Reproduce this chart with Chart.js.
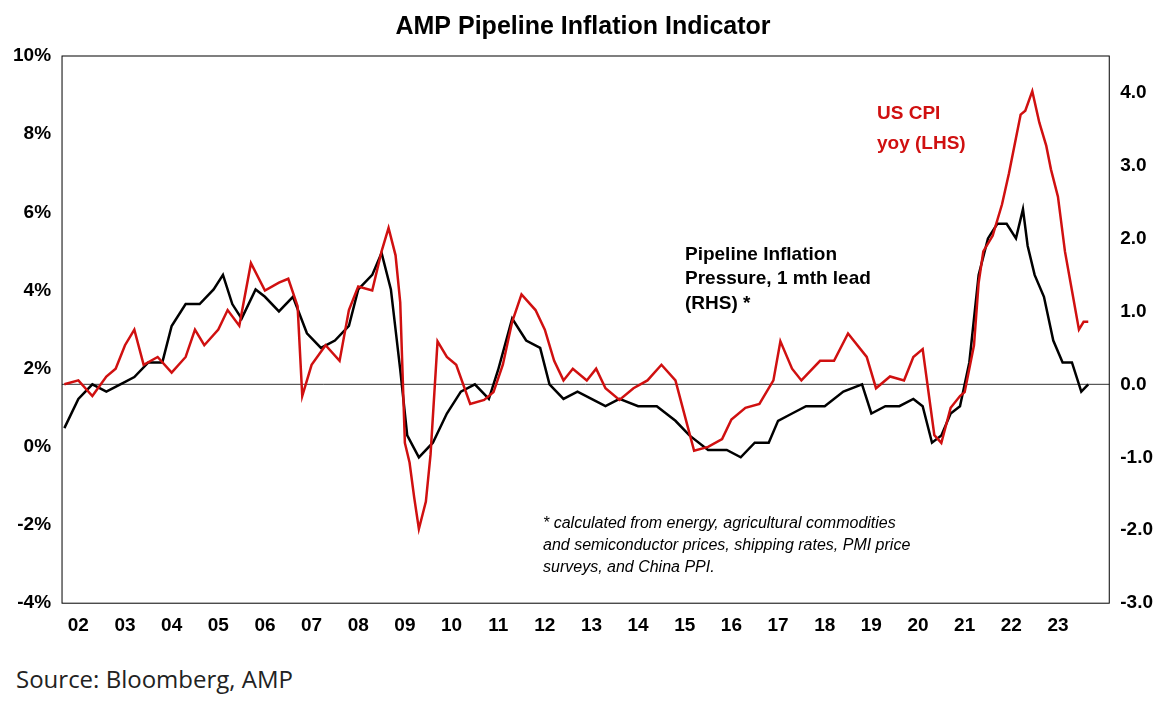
<!DOCTYPE html>
<html><head><meta charset="utf-8">
<script src="https://cdn.jsdelivr.net/npm/chart.js@4"></script>
<style>
body{margin:0;background:#fff;width:1174px;height:709px;overflow:hidden}
#wrap{position:absolute;left:0;top:0;width:1174px;height:640px}
#src{position:absolute;left:16px;top:662px;font:24px "Open Sans",sans-serif;color:#222}
</style></head><body>
<div id="wrap"><canvas id="c" width="1174" height="640"></canvas></div>
<div id="src">Source: Bloomberg, AMP</div>
<script>
const yearTicks=[2002,2003,2004,2005,2006,2007,2008,2009,2010,2011,2012,2013,2014,2015,2016,2017,2018,2019,2020,2021,2022,2023];
const cpiX=[2001.7,2002.0,2002.3,2002.6,2002.8,2003.0,2003.2,2003.4,2003.7,2004.0,2004.3,2004.5,2004.7,2005.0,2005.2,2005.45,2005.7,2006.0,2006.3,2006.5,2006.7,2006.8,2007.0,2007.3,2007.6,2007.8,2008.0,2008.3,2008.5,2008.65,2008.8,2008.9,2009.0,2009.1,2009.2,2009.3,2009.45,2009.55,2009.7,2009.9,2010.1,2010.4,2010.7,2010.9,2011.1,2011.3,2011.5,2011.8,2012.0,2012.2,2012.4,2012.6,2012.9,2013.1,2013.3,2013.6,2013.9,2014.2,2014.5,2014.8,2015.0,2015.2,2015.5,2015.8,2016.0,2016.3,2016.6,2016.9,2017.05,2017.3,2017.5,2017.9,2018.2,2018.5,2018.9,2019.1,2019.4,2019.7,2019.9,2020.1,2020.35,2020.5,2020.7,2020.9,2021.0,2021.2,2021.3,2021.4,2021.6,2021.8,2021.95,2022.1,2022.2,2022.3,2022.45,2022.6,2022.75,2022.85,2023.0,2023.15,2023.3,2023.45,2023.55,2023.65];
const cpiY=[1.6,1.7,1.3,1.8,2.0,2.6,3.0,2.1,2.3,1.9,2.3,3.0,2.6,3.0,3.5,3.1,4.7,4.0,4.2,4.3,3.6,1.3,2.1,2.6,2.2,3.5,4.1,4.0,5.0,5.6,4.9,3.7,0.1,-0.4,-1.3,-2.1,-1.4,-0.2,2.7,2.3,2.1,1.1,1.2,1.4,2.1,3.2,3.9,3.5,3.0,2.2,1.7,2.0,1.7,2.0,1.5,1.2,1.5,1.7,2.1,1.7,0.8,-0.1,0.0,0.2,0.7,1.0,1.1,1.7,2.7,2.0,1.7,2.2,2.2,2.9,2.3,1.5,1.8,1.7,2.3,2.5,0.3,0.1,1.0,1.3,1.4,2.6,4.2,5.0,5.4,6.2,7.0,7.9,8.5,8.6,9.1,8.3,7.7,7.1,6.4,5.0,4.0,3.0,3.2,3.2];
const pipeX=[2001.7,2002.0,2002.3,2002.6,2002.9,2003.2,2003.5,2003.8,2004.0,2004.3,2004.6,2004.9,2005.1,2005.3,2005.5,2005.8,2006.0,2006.3,2006.6,2006.9,2007.2,2007.5,2007.8,2008.0,2008.3,2008.5,2008.7,2008.9,2009.05,2009.3,2009.6,2009.9,2010.2,2010.5,2010.8,2011.0,2011.3,2011.6,2011.9,2012.1,2012.4,2012.7,2013.0,2013.3,2013.6,2014.0,2014.4,2014.8,2015.1,2015.5,2015.9,2016.2,2016.5,2016.8,2017.0,2017.3,2017.6,2018.0,2018.4,2018.8,2019.0,2019.3,2019.6,2019.9,2020.1,2020.3,2020.5,2020.7,2020.9,2021.1,2021.3,2021.5,2021.7,2021.9,2022.1,2022.25,2022.35,2022.5,2022.7,2022.9,2023.1,2023.3,2023.5,2023.65];
const pipeY=[-0.6,-0.2,0.0,-0.1,0.0,0.1,0.3,0.3,0.8,1.1,1.1,1.3,1.5,1.1,0.9,1.3,1.2,1.0,1.2,0.7,0.5,0.6,0.8,1.3,1.5,1.8,1.3,0.2,-0.7,-1.0,-0.8,-0.4,-0.1,0.0,-0.2,0.2,0.9,0.6,0.5,0.0,-0.2,-0.1,-0.2,-0.3,-0.2,-0.3,-0.3,-0.5,-0.7,-0.9,-0.9,-1.0,-0.8,-0.8,-0.5,-0.4,-0.3,-0.3,-0.1,0.0,-0.4,-0.3,-0.3,-0.2,-0.3,-0.8,-0.7,-0.4,-0.3,0.3,1.5,2.0,2.2,2.2,2.0,2.4,1.9,1.5,1.2,0.6,0.3,0.3,-0.1,0.0];
const pts=(xs,ys)=>xs.map((x,i)=>({x,y:ys[i]}));
const deco={id:'deco',
 beforeDatasetsDraw(ch){const {ctx,chartArea:a,scales:s}=ch;const y0=s.y1.getPixelForValue(0);
  ctx.save();ctx.strokeStyle='#333';ctx.lineWidth=1;ctx.beginPath();ctx.moveTo(a.left,y0);ctx.lineTo(a.right,y0);ctx.stroke();ctx.restore();},
 afterDraw(ch){const {ctx,chartArea:a}=ch;ctx.save();
  ctx.strokeStyle='#000';ctx.lineWidth=1;ctx.strokeRect(a.left,a.top,a.right-a.left,a.bottom-a.top);
  ctx.textBaseline='top';
  ctx.font='bold 19px Arial';ctx.fillStyle='#d01010';
  ctx.fillText('US CPI',877,104);ctx.fillText('yoy (LHS)',877,134);
  ctx.fillStyle='#000';
  ctx.fillText('Pipeline Inflation',685,245);ctx.fillText('Pressure, 1 mth lead',685,269);ctx.fillText('(RHS) *',685,294);
  ctx.font='italic 16px Arial';
  ctx.fillText('* calculated from energy, agricultural commodities',543,516);
  ctx.fillText('and semiconductor prices, shipping rates, PMI price',543,538);
  ctx.fillText('surveys, and China PPI.',543,560);
  ctx.restore();}};
new Chart(document.getElementById('c'),{type:'line',
 data:{datasets:[
  {data:pts(cpiX,cpiY),yAxisID:'y',borderColor:'#d01010',borderWidth:2.5,pointRadius:0,tension:0},
  {data:pts(pipeX,pipeY),yAxisID:'y1',borderColor:'#000',borderWidth:2.5,pointRadius:0,tension:0}]},
 options:{responsive:false,animation:false,devicePixelRatio:1,
  layout:{padding:{left:10,right:18,top:0,bottom:0}},
  plugins:{legend:{display:false},tooltip:{enabled:false},
   title:{display:true,text:'AMP Pipeline Inflation Indicator',font:{family:'Arial',size:25,weight:'bold'},color:'#000',padding:{top:12,bottom:14}}},
  scales:{
   x:{type:'linear',min:2001.65,max:2024.1,grid:{display:false},border:{display:false},
     afterBuildTicks(sc){sc.ticks=yearTicks.map(v=>({value:v}));},
     ticks:{autoSkip:false,maxRotation:0,color:'#000',font:{family:'Arial',size:19,weight:'bold'},callback:v=>String(v%100).padStart(2,'0')}},
   y:{position:'left',min:-4,max:10,grid:{display:false},border:{display:false},
     ticks:{stepSize:2,color:'#000',font:{family:'Arial',size:19,weight:'bold'},callback:v=>v+'%'}},
   y1:{position:'right',min:-3,max:4.5,grid:{display:false},border:{display:false},
     afterBuildTicks(sc){sc.ticks=[-3,-2,-1,0,1,2,3,4].map(v=>({value:v}));},
     ticks:{color:'#000',font:{family:'Arial',size:19,weight:'bold'},callback:v=>v.toFixed(1)}}}},
 plugins:[deco]});
</script></body></html>
